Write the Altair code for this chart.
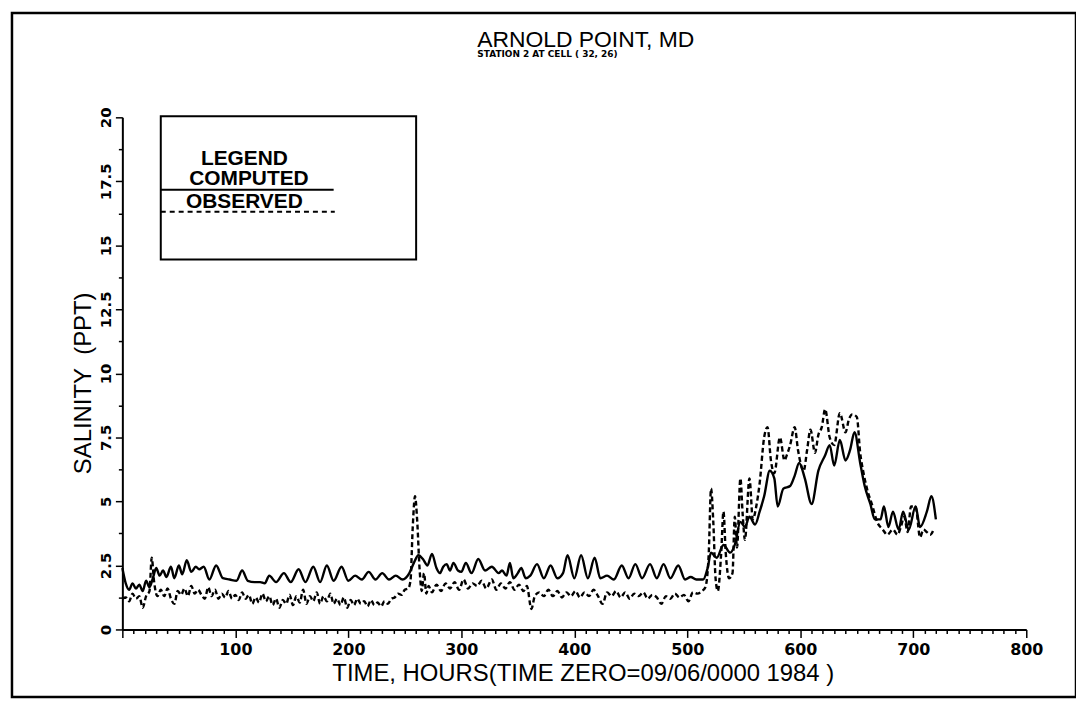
import altair as alt
import pandas as pd

# ---- data (hours, salinity ppt) ----
computed = [
    (0, 2.4), (3, 1.8), (6, 1.55), (9, 1.8), (12, 1.6), (15, 1.75), (18, 1.5), (21, 1.9),
    (24, 1.65), (27, 2.0), (30, 2.4), (33, 2.1), (36, 2.3), (39, 2.05), (43, 2.45), (46, 2.0),
    (50, 2.5), (53, 2.15), (57, 2.7), (61, 2.25), (65, 2.45), (68, 2.35), (72, 2.45), (77, 1.95),
    (83, 2.5), (89, 2.0), (95, 1.95), (101, 1.9), (106, 2.3), (111, 1.9), (117, 1.85), (122, 1.85),
    (126, 1.8), (130, 2.1), (136, 1.85), (143, 2.2), (149, 1.85), (156, 2.35), (162, 1.85),
    (169, 2.45), (175, 1.85), (181, 2.5), (187, 1.9), (194, 2.45), (200, 1.9), (206, 2.1),
    (212, 1.95), (218, 2.25), (224, 1.95), (230, 2.2), (236, 1.95), (242, 2.1), (248, 1.95),
    (254, 2.2), (258, 2.6), (262, 2.9), (266, 2.75), (270, 2.5), (274, 2.95), (278, 2.4),
    (281, 2.2), (284, 2.45), (287, 2.55), (290, 2.3), (293, 2.6), (297, 2.3), (300, 2.25),
    (304, 2.6), (309, 2.2), (315, 2.75), (321, 2.3), (327, 2.45), (333, 2.2), (336, 2.3),
    (340, 2.1), (343, 2.6), (346, 2.0), (350, 2.2), (353, 2.4), (357, 2.0), (361, 2.1),
    (367, 2.55), (373, 2.0), (379, 2.5), (385, 2.0), (390, 2.2), (394, 2.9), (400, 2.0),
    (406, 2.9), (412, 2.0), (418, 2.8), (423, 2.0), (429, 2.1), (435, 1.95), (442, 2.5),
    (448, 2.0), (454, 2.55), (460, 2.0), (467, 2.55), (473, 2.0), (479, 2.55), (485, 2.0),
    (492, 2.5), (498, 1.95), (503, 2.05), (508, 1.95), (514, 1.95), (518, 2.4), (521, 3.0),
    (526, 2.8), (532, 3.3), (538, 3.0), (542, 3.3), (547, 4.2), (551, 4.0), (555, 4.4),
    (560, 4.1), (564, 4.6), (568, 5.2), (573, 6.2), (577, 5.9), (580, 4.8), (585, 5.5),
    (591, 5.6), (595, 6.0), (599, 6.5), (604, 5.9), (610, 4.9), (616, 6.2), (622, 6.8),
    (626, 7.2), (630, 6.4), (635, 7.4), (640, 6.6), (644, 7.0), (648, 7.7), (653, 6.5),
    (657, 5.6), (662, 4.9), (666, 4.3), (671, 4.3), (674, 4.8), (678, 4.0), (682, 4.6),
    (687, 3.9), (691, 4.6), (696, 3.9), (702, 4.8), (706, 4.0), (712, 4.6), (716, 5.2),
    (720, 4.3),
]

observed = [
    (0, 1.2), (3, 1.25), (6, 1.1), (9, 1.4), (12, 1.2), (15, 1.3), (18, 0.85), (21, 1.3),
    (24, 1.5), (26, 2.8), (28, 1.9), (31, 1.3), (34, 1.55), (37, 1.3), (40, 1.6), (43, 1.2),
    (46, 1.0), (49, 1.5), (52, 1.35), (55, 1.6), (58, 1.3), (61, 1.7), (64, 1.4), (67, 1.55),
    (70, 1.35), (73, 1.2), (76, 1.65), (79, 1.3), (82, 1.55), (85, 1.2), (88, 1.4), (91, 1.25),
    (94, 1.5), (97, 1.2), (100, 1.35), (103, 1.15), (106, 1.45), (109, 1.2), (112, 1.35),
    (115, 1.0), (118, 1.25), (121, 1.05), (124, 1.4), (127, 1.1), (130, 1.3), (133, 0.95),
    (136, 1.2), (139, 0.85), (142, 1.15), (145, 1.0), (148, 1.35), (151, 0.95), (154, 1.3),
    (157, 1.05), (160, 1.55), (163, 1.0), (166, 1.3), (169, 1.1), (172, 1.45), (175, 1.0),
    (178, 1.3), (181, 1.1), (184, 1.4), (187, 1.0), (190, 1.2), (193, 0.95), (196, 1.25),
    (199, 0.85), (202, 1.15), (205, 0.95), (208, 1.2), (211, 1.0), (214, 1.1), (217, 0.9),
    (220, 1.15), (223, 0.95), (226, 1.05), (229, 0.9), (232, 1.1), (235, 1.0), (238, 1.2),
    (241, 1.25), (244, 1.4), (247, 1.35), (250, 1.55), (253, 1.6), (255, 1.9), (257, 4.0),
    (259, 5.2), (261, 4.2), (263, 2.4), (265, 1.5), (267, 2.2), (269, 1.4), (271, 1.7),
    (274, 1.45), (278, 1.75), (282, 1.5), (286, 1.8), (290, 1.6), (294, 1.85), (298, 1.55),
    (302, 1.95), (306, 1.6), (310, 1.8), (314, 1.7), (318, 1.9), (322, 1.6), (327, 1.95),
    (331, 1.55), (335, 1.8), (339, 1.6), (343, 1.85), (347, 1.55), (351, 1.75), (355, 1.5),
    (358, 1.7), (362, 0.8), (365, 1.3), (369, 1.45), (373, 1.3), (377, 1.55), (381, 1.3),
    (385, 1.5), (389, 1.25), (393, 1.45), (397, 1.3), (401, 1.5), (405, 1.25), (409, 1.45),
    (413, 1.3), (417, 1.55), (421, 1.3), (425, 1.0), (429, 1.45), (433, 1.3), (437, 1.5),
    (441, 1.25), (445, 1.45), (449, 1.2), (453, 1.4), (457, 1.3), (461, 1.45), (465, 1.2),
    (469, 1.35), (473, 1.25), (477, 1.0), (481, 1.3), (485, 1.2), (489, 1.4), (493, 1.25),
    (497, 1.35), (501, 1.1), (505, 1.45), (509, 1.4), (513, 1.5), (516, 1.65), (519, 3.0),
    (521, 5.5), (523, 4.2), (525, 2.0), (527, 1.5), (530, 3.0), (532, 4.6), (534, 3.0),
    (537, 2.0), (540, 2.2), (542, 4.4), (544, 3.2), (547, 5.9), (549, 4.5), (551, 3.5),
    (555, 5.9), (558, 4.3), (561, 4.8), (564, 5.7), (568, 7.5), (571, 7.9), (574, 6.6),
    (577, 6.1), (582, 7.5), (586, 6.6), (588, 6.8), (591, 7.2), (595, 7.9), (598, 7.0),
    (603, 6.2), (606, 7.0), (609, 7.8), (613, 6.9), (616, 7.6), (619, 7.9), (622, 8.6),
    (626, 7.5), (630, 7.2), (635, 8.45), (640, 7.7), (643, 8.2), (646, 8.4), (650, 8.3),
    (653, 6.9), (656, 6.1), (659, 5.5), (664, 4.8), (668, 4.2), (673, 3.9), (677, 3.7),
    (682, 3.9), (686, 3.7), (689, 4.0), (692, 4.4), (695, 3.8), (698, 4.8), (702, 4.8),
    (706, 3.6), (709, 3.9), (712, 3.8), (715, 3.7), (718, 3.9),
]

x_ticks = list(range(0, 801, 10))
y_ticks = [0, 1.25, 2.5, 3.75, 5, 6.25, 7.5, 8.75, 10, 11.25, 12.5, 13.75, 15, 16.25, 17.5, 18.75, 20]

title_text = "ARNOLD POINT, MD"
subtitle_text = "STATION 2 AT CELL ( 32, 26)"
x_title = "TIME, HOURS(TIME ZERO=09/06/0000 1984 )"
y_title = "SALINITY\u00a0\u00a0(PPT)"

# legend annotation (data units)
legend_box = pd.DataFrame({"t": [34], "t2": [260], "v": [20.04], "v2": [14.45]})
legend_solid = pd.DataFrame({"t": [34], "t2": [187], "v": [17.17]})
legend_dash = pd.DataFrame({"t": [34], "t2": [188], "v": [16.31]})
legend_texts = pd.DataFrame({"t": [108, 112, 108], "v": [18.12, 17.34, 16.45],
                             "label": ["LEGEND", "COMPUTED", "OBSERVED"]})

FONT = "Liberation Sans"
LABEL_FONT = "DejaVu Sans"
W, H = 1070, 688

comp_df = pd.DataFrame(computed, columns=["t", "v"])
obs_df = pd.DataFrame(observed, columns=["t", "v"])

xs = alt.Scale(domain=[0, 800], range=[111, 1020], nice=False, zero=False)
ys = alt.Scale(domain=[0, 20], range=[620, 105], nice=False, zero=False)

x_axis = alt.Axis(
    values=x_ticks, offset=-68, grid=False,
    tickSize={"condition": {"test": "datum.value % 100 === 0", "value": 8}, "value": 4},
    labelExpr="datum.value % 100 === 0 && datum.value > 0 ? '' + datum.value : ''",
    labelFont=LABEL_FONT, labelFontSize=16, labelFontWeight=700, labelPadding=4,
    title=x_title, titleFontSize=24, titlePadding=4, titleX=574,
)
y_axis = alt.Axis(
    values=y_ticks, offset=-111, grid=False,
    tickSize={"condition": {"test": "datum.value % 2.5 === 0", "value": 7}, "value": 4},
    labelExpr="datum.value % 2.5 === 0 ? '' + datum.value : ''",
    labelFont=LABEL_FONT, labelFontSize=15, labelFontWeight=700,
    labelAngle=270, labelAlign="center", labelBaseline="bottom",
    labelPadding=2,
    title=y_title, titleFontSize=24, titlePadding=3, titleY=372,
)

X = alt.X("t:Q", scale=xs, axis=x_axis)
Y = alt.Y("v:Q", scale=ys, axis=y_axis)

computed_line = alt.Chart(comp_df).mark_line(
    interpolate="monotone", color="black", strokeWidth=2.4
).encode(x=X, y=Y)

observed_line = alt.Chart(obs_df).mark_line(
    interpolate="monotone", color="black", strokeWidth=2.4, strokeDash=[5, 3]
).encode(x=X, y=Y)

box = alt.Chart(legend_box).mark_rect(
    filled=False, stroke="black", strokeWidth=2
).encode(x=X, x2="t2:Q", y=Y, y2="v2:Q")

leg_solid = alt.Chart(legend_solid).mark_rule(
    color="black", strokeWidth=2
).encode(x=X, x2="t2:Q", y=Y)

leg_dash = alt.Chart(legend_dash).mark_rule(
    color="black", strokeWidth=2, strokeDash=[5, 4]
).encode(x=X, x2="t2:Q", y=Y)

leg_text = alt.Chart(legend_texts).mark_text(
    font=FONT, fontSize=21, fontWeight="bold", color="black",
    align="center", baseline="alphabetic"
).encode(x=X, y=Y, text="label:N")

title_mark = alt.Chart(pd.DataFrame({"label": [title_text]})).mark_text(
    font=FONT, fontSize=23, color="black", align="center", baseline="alphabetic"
).encode(x=alt.value(577), y=alt.value(34), text="label:N")

subtitle_mark = alt.Chart(pd.DataFrame({"label": [subtitle_text]})).mark_text(
    font=LABEL_FONT, fontSize=9, fontWeight="bold", color="black", align="left", baseline="alphabetic"
).encode(x=alt.value(468), y=alt.value(44), text="label:N")

chart = alt.layer(
    computed_line, observed_line, box, leg_solid, leg_dash, leg_text, title_mark, subtitle_mark
).properties(
    width=W, height=H,
    padding={"left": 4, "top": 3, "right": 0, "bottom": 0},
    autosize=alt.AutoSizeParams(type="none"),
    background="white",
).configure_view(
    stroke="black", strokeWidth=2.5
).configure_axis(
    domainColor="black", domainWidth=2,
    tickColor="black", tickWidth=1.5,
    labelColor="black",
    labelOverlap=False, labelFlush=False,
    titleFont=FONT, titleFontWeight="normal", titleColor="black",
)

chart.save("out.html", embed_options={"renderer": "svg", "actions": False})
